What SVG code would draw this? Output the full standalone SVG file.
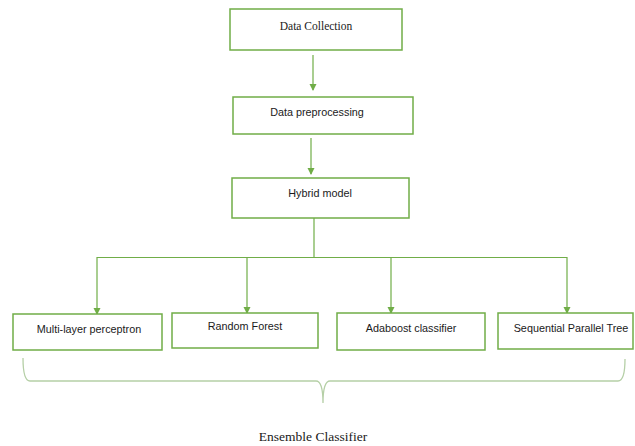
<svg xmlns="http://www.w3.org/2000/svg" width="635" height="446" viewBox="0 0 635 446">
<defs>
<style>
.box{fill:#fff;stroke:#70AD47;stroke-width:1.5}
.line{fill:none;stroke:#70AD47;stroke-width:1.2}
.brace{fill:none;stroke:#B5CFA6;stroke-width:1.3}
.serif{font-family:"Liberation Serif","Times New Roman",serif;fill:#1a1a1a}
.sans{font-family:"Liberation Sans",Arial,sans-serif;font-size:10.8px;fill:#1a1a1a}
</style>
<marker id="arr" markerWidth="8" markerHeight="8" refX="6" refY="4" orient="auto" markerUnits="userSpaceOnUse">
<path d="M0,0.5 L7,4 L0,7.5 Z" fill="#70AD47"/>
</marker>
</defs>
<rect width="635" height="446" fill="#fff"/>
<g id="connectors">
<line class="line" x1="313" y1="55" x2="313" y2="90" marker-end="url(#arr)"/>
<line class="line" x1="311" y1="138" x2="311" y2="174" marker-end="url(#arr)"/>
<line class="line" x1="314" y1="218" x2="314" y2="258"/>
<line class="line" x1="97" y1="257.5" x2="567" y2="257.5"/>
<line class="line" x1="97" y1="257" x2="97" y2="314" marker-end="url(#arr)"/>
<line class="line" x1="247" y1="257" x2="247" y2="313" marker-end="url(#arr)"/>
<line class="line" x1="391" y1="257" x2="391" y2="313" marker-end="url(#arr)"/>
<line class="line" x1="567" y1="257" x2="567" y2="313" marker-end="url(#arr)"/>
</g>
<g id="n1"><rect class="box" x="230" y="9" width="172" height="41"/><text class="serif" x="316" y="30" font-size="11.5" text-anchor="middle">Data Collection</text></g>
<g id="n2"><rect class="box" x="233" y="97" width="180" height="37"/><text class="sans" x="317" y="116" text-anchor="middle">Data preprocessing</text></g>
<g id="n3"><rect class="box" x="232" y="178" width="177" height="40"/><text class="sans" x="320" y="197" text-anchor="middle">Hybrid model</text></g>
<g id="n4"><rect class="box" x="13" y="314" width="149" height="36"/><text class="sans" x="89" y="333" text-anchor="middle">Multi-layer perceptron</text></g>
<g id="n5"><rect class="box" x="172" y="313" width="146" height="35"/><text class="sans" x="245" y="330" text-anchor="middle">Random Forest</text></g>
<g id="n6"><rect class="box" x="337" y="313" width="148" height="37"/><text class="sans" x="411" y="332" text-anchor="middle">Adaboost classifier</text></g>
<g id="n7"><rect class="box" x="498" y="313" width="135" height="36"/><text class="sans" x="571" y="332" text-anchor="middle">Sequential Parallel Tree</text></g>
<g id="brace">
<path class="brace" d="M23,358 Q23,381 30,381 L316,381 Q323,381 323,403 Q323,381 330,381 L618,381 Q625,381 625,359"/>
</g>
<g id="label"><text class="serif" x="313" y="441" font-size="13.5" text-anchor="middle">Ensemble Classifier</text></g>
</svg>
